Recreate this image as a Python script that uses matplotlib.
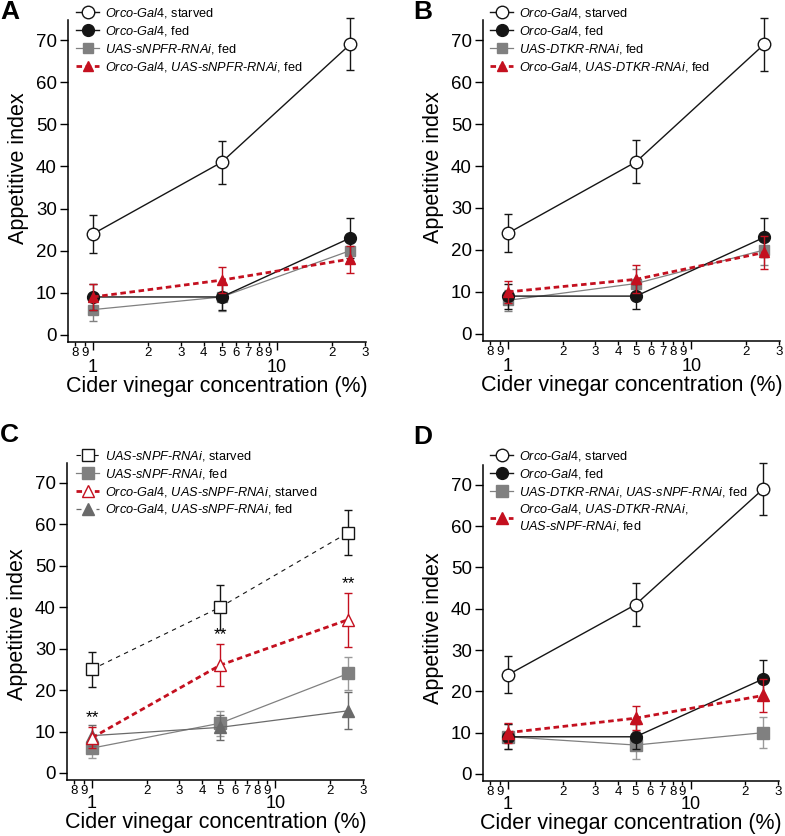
import matplotlib
matplotlib.use("Agg")
import matplotlib.pyplot as plt
from matplotlib.lines import Line2D
from matplotlib.ticker import FixedLocator, FixedFormatter

plt.rcParams['font.family'] = 'Liberation Sans'
plt.rcParams['mathtext.fontset'] = 'custom'
plt.rcParams['mathtext.it'] = 'Liberation Sans:italic'
plt.rcParams['mathtext.rm'] = 'Liberation Sans'

# cider vinegar concentration (%)
conc = [1, 5, 25]

# panel A
a_starved = [24, 41, 69]
a_starved_err = [4.5, 5.1, 6.2]
a_fed = [9, 9, 23]
a_fed_err = [3, 3, 4.7]
a_uas = [6, 9, 20]
a_uas_err = [2.8, 3.3, 2.5]
a_cross = [9, 13, 18]
a_cross_err = [3, 3, 3.2]

# panel B
b_starved = [24, 41, 69]
b_starved_err = [4.5, 5.1, 6.3]
b_fed = [9, 9, 23]
b_fed_err = [3, 3, 4.7]
b_uas = [8, 12, 20]
b_uas_err = [2.5, 3.5, 3.5]
b_cross = [10, 13, 19.4]
b_cross_err = [2.7, 3.3, 4]

# panel C
c_uas_starved = [25, 40, 58]
c_uas_starved_err = [4.3, 5.4, 5.5]
c_uas_fed = [6, 12, 24]
c_uas_fed_err = [2.5, 3, 4]
c_cross_starved = [8.5, 26, 37]
c_cross_starved_err = [2.6, 5, 6.5]
c_cross_fed = [9, 11, 15]
c_cross_fed_err = [2.6, 3, 4.5]
c_signif = ["**", "**", "**"]

# panel D
d_starved = [24, 41, 69]
d_starved_err = [4.5, 5.2, 6.3]
d_fed = [9, 9, 23]
d_fed_err = [3, 3, 4.7]
d_uas = [9, 7, 10]
d_uas_err = [3, 3.4, 3.7]
d_cross = [10, 13.5, 19]
d_cross_err = [2.4, 2.9, 3.9]

minor_ticks = [0.8, 0.9, 2, 3, 4, 5, 6, 7, 8, 9, 20, 30]
minor_labels = ["8", "9", "2", "3", "4", "5", "6", "7", "8", "9", "2", "3"]

BLACK = "#151515"
GRAY = "#808080"
DGRAY = "#6a6a6a"
RED = "#c4101f"


def ital(name):
    return "-".join(r"$\mathit{%s}$" % p for p in name.split("-"))


def setup(ax, label_y, xpad=-0.5, mpad=7):
    ax.set_xscale('log')
    ax.set_xlim(0.73, 30.5)
    ax.set_ylim(-1.7, 74.8)
    ax.spines['top'].set_visible(False)
    ax.spines['right'].set_visible(False)
    for s in ('left', 'bottom'):
        ax.spines[s].set_linewidth(1.1)
    ax.xaxis.set_major_locator(FixedLocator([1, 10]))
    ax.xaxis.set_major_formatter(FixedFormatter(["1", "10"]))
    ax.xaxis.set_minor_locator(FixedLocator(minor_ticks))
    ax.xaxis.set_minor_formatter(FixedFormatter(minor_labels))
    ax.tick_params(axis='x', which='major', length=5.5, width=1, labelsize=13, pad=mpad)
    ax.tick_params(axis='x', which='minor', length=3, width=1, labelsize=9.5, pad=0.5)
    ax.set_yticks(range(0, 71, 10))
    ax.tick_params(axis='y', length=6, width=1, labelsize=13.5, pad=2)
    ax.set_xlabel("Cider vinegar concentration (%)", fontsize=15.5, labelpad=xpad)
    ax.set_ylabel("Appetitive index", fontsize=15.5, labelpad=5)
    ax.yaxis.label.set_y(label_y)


def series(ax, y, err, color, marker, mfc, ms, ls='-', lw=0.9, ecolor=None, z=2):
    ax.errorbar(conc, y, yerr=err, color=color, marker=marker, mfc=mfc, mec=color,
                ms=ms, linestyle=ls, lw=lw, ecolor=ecolor or color, elinewidth=1,
                capsize=2.8, capthick=1, zorder=z, clip_on=False)
    return Line2D([], [], color=color, marker=marker, mfc=mfc, mec=color, ms=ms,
                  linestyle=ls, lw=lw)


def legend(ax, handles, labels, x, y):
    ax.legend(handles, labels, loc='upper left', bbox_to_anchor=(x / 785, 1 - y / 836),
              bbox_transform=fig.transFigure, frameon=False, fontsize=9.2,
              handlelength=1.8, handletextpad=0.5, labelspacing=0.3, borderpad=0,
              borderaxespad=0)


RED_LS = (0, (2.0, 1.3))

fig = plt.figure(figsize=(7.85, 8.36), dpi=100)
axA = fig.add_axes([0.0866, 0.5909, 0.3796, 0.3852])
axB = fig.add_axes([0.6153, 0.5921, 0.3783, 0.3840])
axC = fig.add_axes([0.0854, 0.0670, 0.3783, 0.3792])
axD = fig.add_axes([0.6153, 0.0658, 0.3770, 0.3780])

# A
setup(axA, 0.54)
h3 = series(axA, a_uas, a_uas_err, GRAY, 's', GRAY, 7, lw=0.9, z=2)
h2 = series(axA, a_fed, a_fed_err, BLACK, 'o', BLACK, 8.5, lw=1, z=3)
h4 = series(axA, a_cross, a_cross_err, RED, '^', RED, 6.5, ls=RED_LS, lw=2, z=4)
h1 = series(axA, a_starved, a_starved_err, BLACK, 'o', 'white', 9, lw=1, z=5)
legend(axA, [h1, h2, h3, h4],
       [ital("Orco-Gal4") + ", starved", ital("Orco-Gal4") + ", fed",
        ital("UAS-sNPFR-RNAi") + ", fed",
        ital("Orco-Gal4") + ", " + ital("UAS-sNPFR-RNAi") + ", fed"], 76, 6)

# B
setup(axB, 0.54)
h3 = series(axB, b_uas, b_uas_err, GRAY, 's', GRAY, 7, lw=0.9, z=2)
h2 = series(axB, b_fed, b_fed_err, BLACK, 'o', BLACK, 8.5, lw=1, z=3)
h4 = series(axB, b_cross, b_cross_err, RED, '^', RED, 6.5, ls=RED_LS, lw=2, z=4)
h1 = series(axB, b_starved, b_starved_err, BLACK, 'o', 'white', 9, lw=1, z=5)
legend(axB, [h1, h2, h3, h4],
       [ital("Orco-Gal4") + ", starved", ital("Orco-Gal4") + ", fed",
        ital("UAS-DTKR-RNAi") + ", fed",
        ital("Orco-Gal4") + ", " + ital("UAS-DTKR-RNAi") + ", fed"], 490, 6)

# C
setup(axC, 0.49, xpad=-0.3, mpad=5.5)
h2 = series(axC, c_uas_fed, c_uas_fed_err, GRAY, 's', GRAY, 8, lw=0.9, ecolor="#9a9a9a", z=2)
h4 = series(axC, c_cross_fed, c_cross_fed_err, DGRAY, '^', DGRAY, 8, lw=0.9, z=3)
h1 = series(axC, c_uas_starved, c_uas_starved_err, BLACK, 's', 'white', 9, ls=(0, (4, 4)), lw=0.8, z=4)
h3 = series(axC, c_cross_starved, c_cross_starved_err, RED, '^', 'white', 9, ls=RED_LS, lw=2, z=5)
h4.set_linestyle((0, (4, 4)))
for x, y, e, s in zip(conc, c_cross_starved, c_cross_starved_err, c_signif):
    axC.text(x, y + e + 2.3, s, ha='center', va='center', fontsize=12.5)
legend(axC, [h1, h2, h3, h4],
       [ital("UAS-sNPF-RNAi") + ", starved", ital("UAS-sNPF-RNAi") + ", fed",
        ital("Orco-Gal4") + ", " + ital("UAS-sNPF-RNAi") + ", starved",
        ital("Orco-Gal4") + ", " + ital("UAS-sNPF-RNAi") + ", fed"], 76, 449)

# D
setup(axD, 0.485, xpad=-0.3, mpad=5.5)
h3 = series(axD, d_uas, d_uas_err, GRAY, 's', GRAY, 8, lw=0.9, ecolor="#9a9a9a", z=2)
h2 = series(axD, d_fed, d_fed_err, BLACK, 'o', BLACK, 8.5, lw=1, z=3)
h4 = series(axD, d_cross, d_cross_err, RED, '^', RED, 8, ls=RED_LS, lw=2, z=4)
h1 = series(axD, d_starved, d_starved_err, BLACK, 'o', 'white', 9, lw=1, z=5)
legend(axD, [h1, h2, h3, h4],
       [ital("Orco-Gal4") + ", starved", ital("Orco-Gal4") + ", fed",
        ital("UAS-DTKR-RNAi") + ", " + ital("UAS-sNPF-RNAi") + ", fed",
        ital("Orco-Gal4") + ", " + ital("UAS-DTKR-RNAi") + ",\n" + ital("UAS-sNPF-RNAi") + ", fed"],
       490, 449)

for lab, x, y in [("A", 0, 0), ("B", 413, 0), ("C", 0, 423), ("D", 413, 425)]:
    fig.text(x / 785, 1 - y / 836, lab, ha='left', va='top', fontsize=19, fontweight='bold')

fig.savefig("out.png", dpi=100)
